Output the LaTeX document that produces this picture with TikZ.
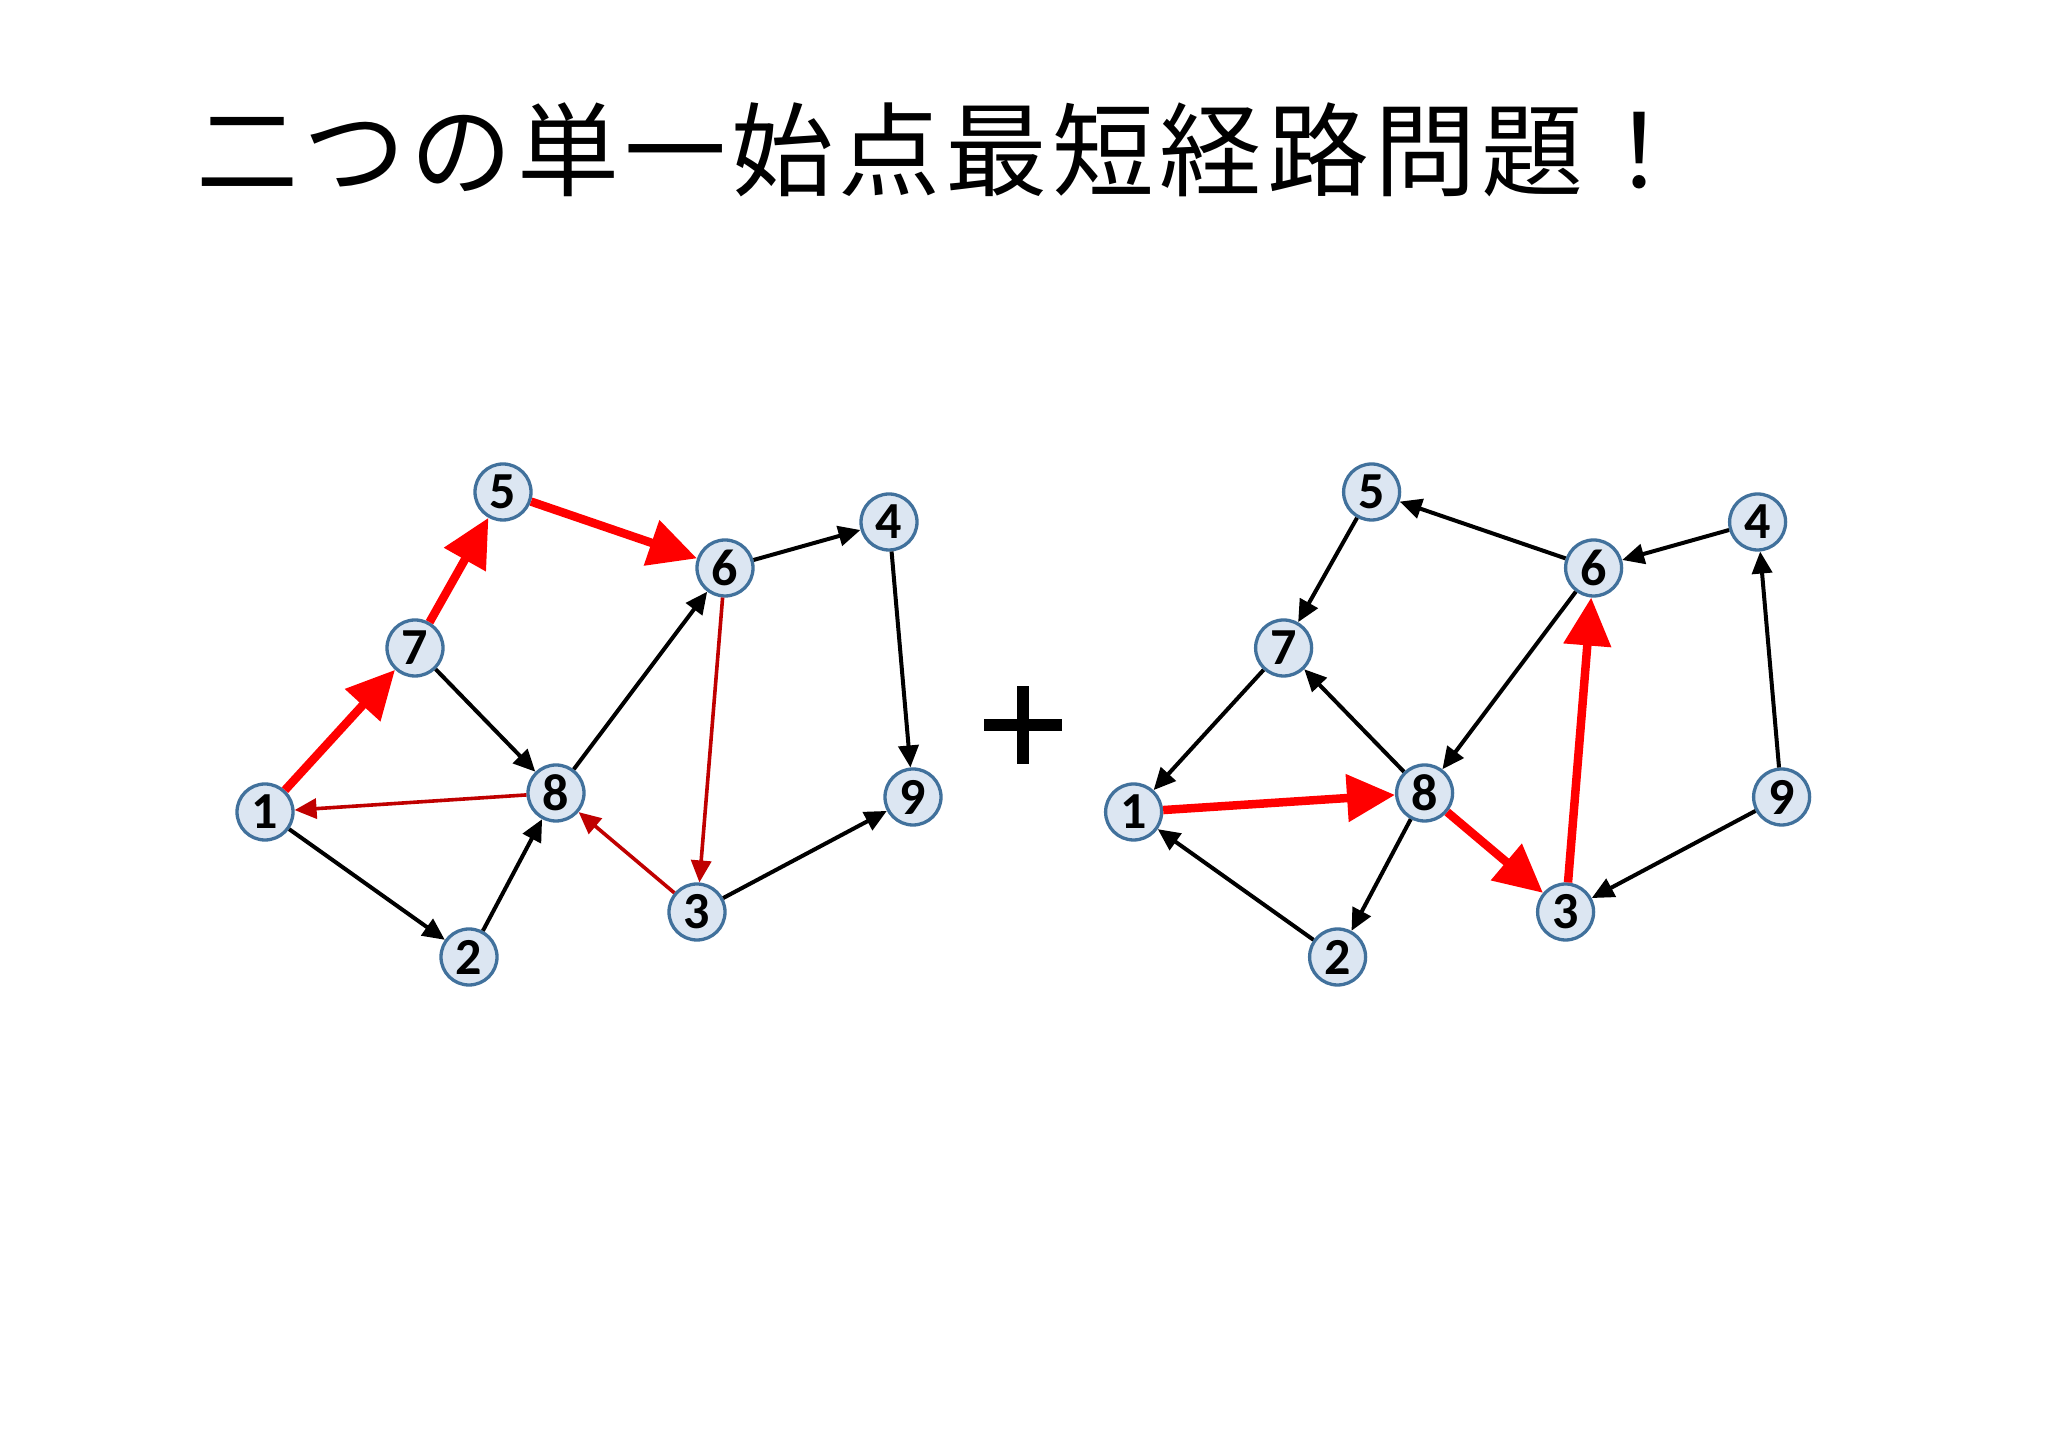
\documentclass[tikz,border=0pt]{standalone}
\usepackage{fontspec}
\setmainfont{Carlito}
\newfontfamily\jpfont[LetterSpace=5]{Noto Sans CJK JP}
\usetikzlibrary{arrows.meta}
\definecolor{nodefill}{HTML}{DCE6F2}
\definecolor{nodeline}{HTML}{41719C}
\definecolor{darkred}{HTML}{C00000}
\tikzset{
  vtx/.style={circle,draw=nodeline,line width=3.3pt,fill=nodefill,minimum size=56pt,inner sep=0pt,
    font=\fontsize{52}{52}\selectfont\bfseries},
  blk/.style={line width=4pt,black,-{Triangle[length=22pt,width=20pt]}},
  redthick/.style={line width=8.5pt,red,-{Triangle[length=48pt,width=46pt]}},
  redthin/.style={line width=3.6pt,darkred,-{Triangle[length=22pt,width=20pt]}},
}
\begin{document}
\begin{tikzpicture}[x=1pt,y=1pt]
\useasboundingbox (0,0) rectangle (2048,1448);
\fill[white] (0,0) rectangle (2048,1448);
\node[anchor=base west,inner sep=0pt,font=\jpfont\fontsize{102}{102}\selectfont] (title) at (196,1259) {二つの単一始点最短経路問題！};
% left graph
\node[vtx] (L1) at (265,636) {1};
\node[vtx] (L2) at (469,491) {2};
\node[vtx] (L3) at (697,536) {3};
\node[vtx] (L4) at (889,926) {4};
\node[vtx] (L5) at (503,956) {5};
\node[vtx] (L6) at (725,880) {6};
\node[vtx] (L7) at (415,800) {7};
\node[vtx] (L8) at (556,655) {8};
\node[vtx] (L9) at (913,651) {9};
\draw[redthick] (L1) -- (L7);
\draw[redthick] (L7) -- (L5);
\draw[redthick] (L5) -- (L6);
\draw[blk] (L6) -- (L4);
\draw[blk] (L4) -- (L9);
\draw[blk] (L7) -- (L8);
\draw[blk] (L8) -- (L6);
\draw[redthin] (L8) -- (L1);
\draw[blk] (L1) -- (L2);
\draw[blk] (L2) -- (L8);
\draw[redthin] (L3) -- (L8);
\draw[redthin] (L6) -- (L3);
\draw[blk] (L3) -- (L9);
% plus
\coordinate (pc) at (1023,723);
\fill[black] ([xshift=-39pt,yshift=-6pt]pc) rectangle ([xshift=39pt,yshift=6pt]pc);
\fill[black] ([xshift=-6pt,yshift=-39pt]pc) rectangle ([xshift=6pt,yshift=39pt]pc);
% right graph
\begin{scope}[xshift=868.6pt]
\node[vtx] (R1) at (265,636) {1};
\node[vtx] (R2) at (469,491) {2};
\node[vtx] (R3) at (697,536) {3};
\node[vtx] (R4) at (889,926) {4};
\node[vtx] (R5) at (503,956) {5};
\node[vtx] (R6) at (725,880) {6};
\node[vtx] (R7) at (415,800) {7};
\node[vtx] (R8) at (556,655) {8};
\node[vtx] (R9) at (913,651) {9};
\end{scope}
\draw[blk] (R6) -- (R5);
\draw[blk] (R5) -- (R7);
\draw[blk] (R4) -- (R6);
\draw[blk] (R9) -- (R4);
\draw[blk] (R6) -- (R8);
\draw[blk] (R8) -- (R7);
\draw[blk] (R7) -- (R1);
\draw[blk] (R2) -- (R1);
\draw[blk] (R8) -- (R2);
\draw[blk] (R9) -- (R3);
\draw[redthick] (R1) -- (R8);
\draw[redthick] (R8) -- (R3);
\draw[redthick] (R3) -- (R6);
\end{tikzpicture}
\end{document}
